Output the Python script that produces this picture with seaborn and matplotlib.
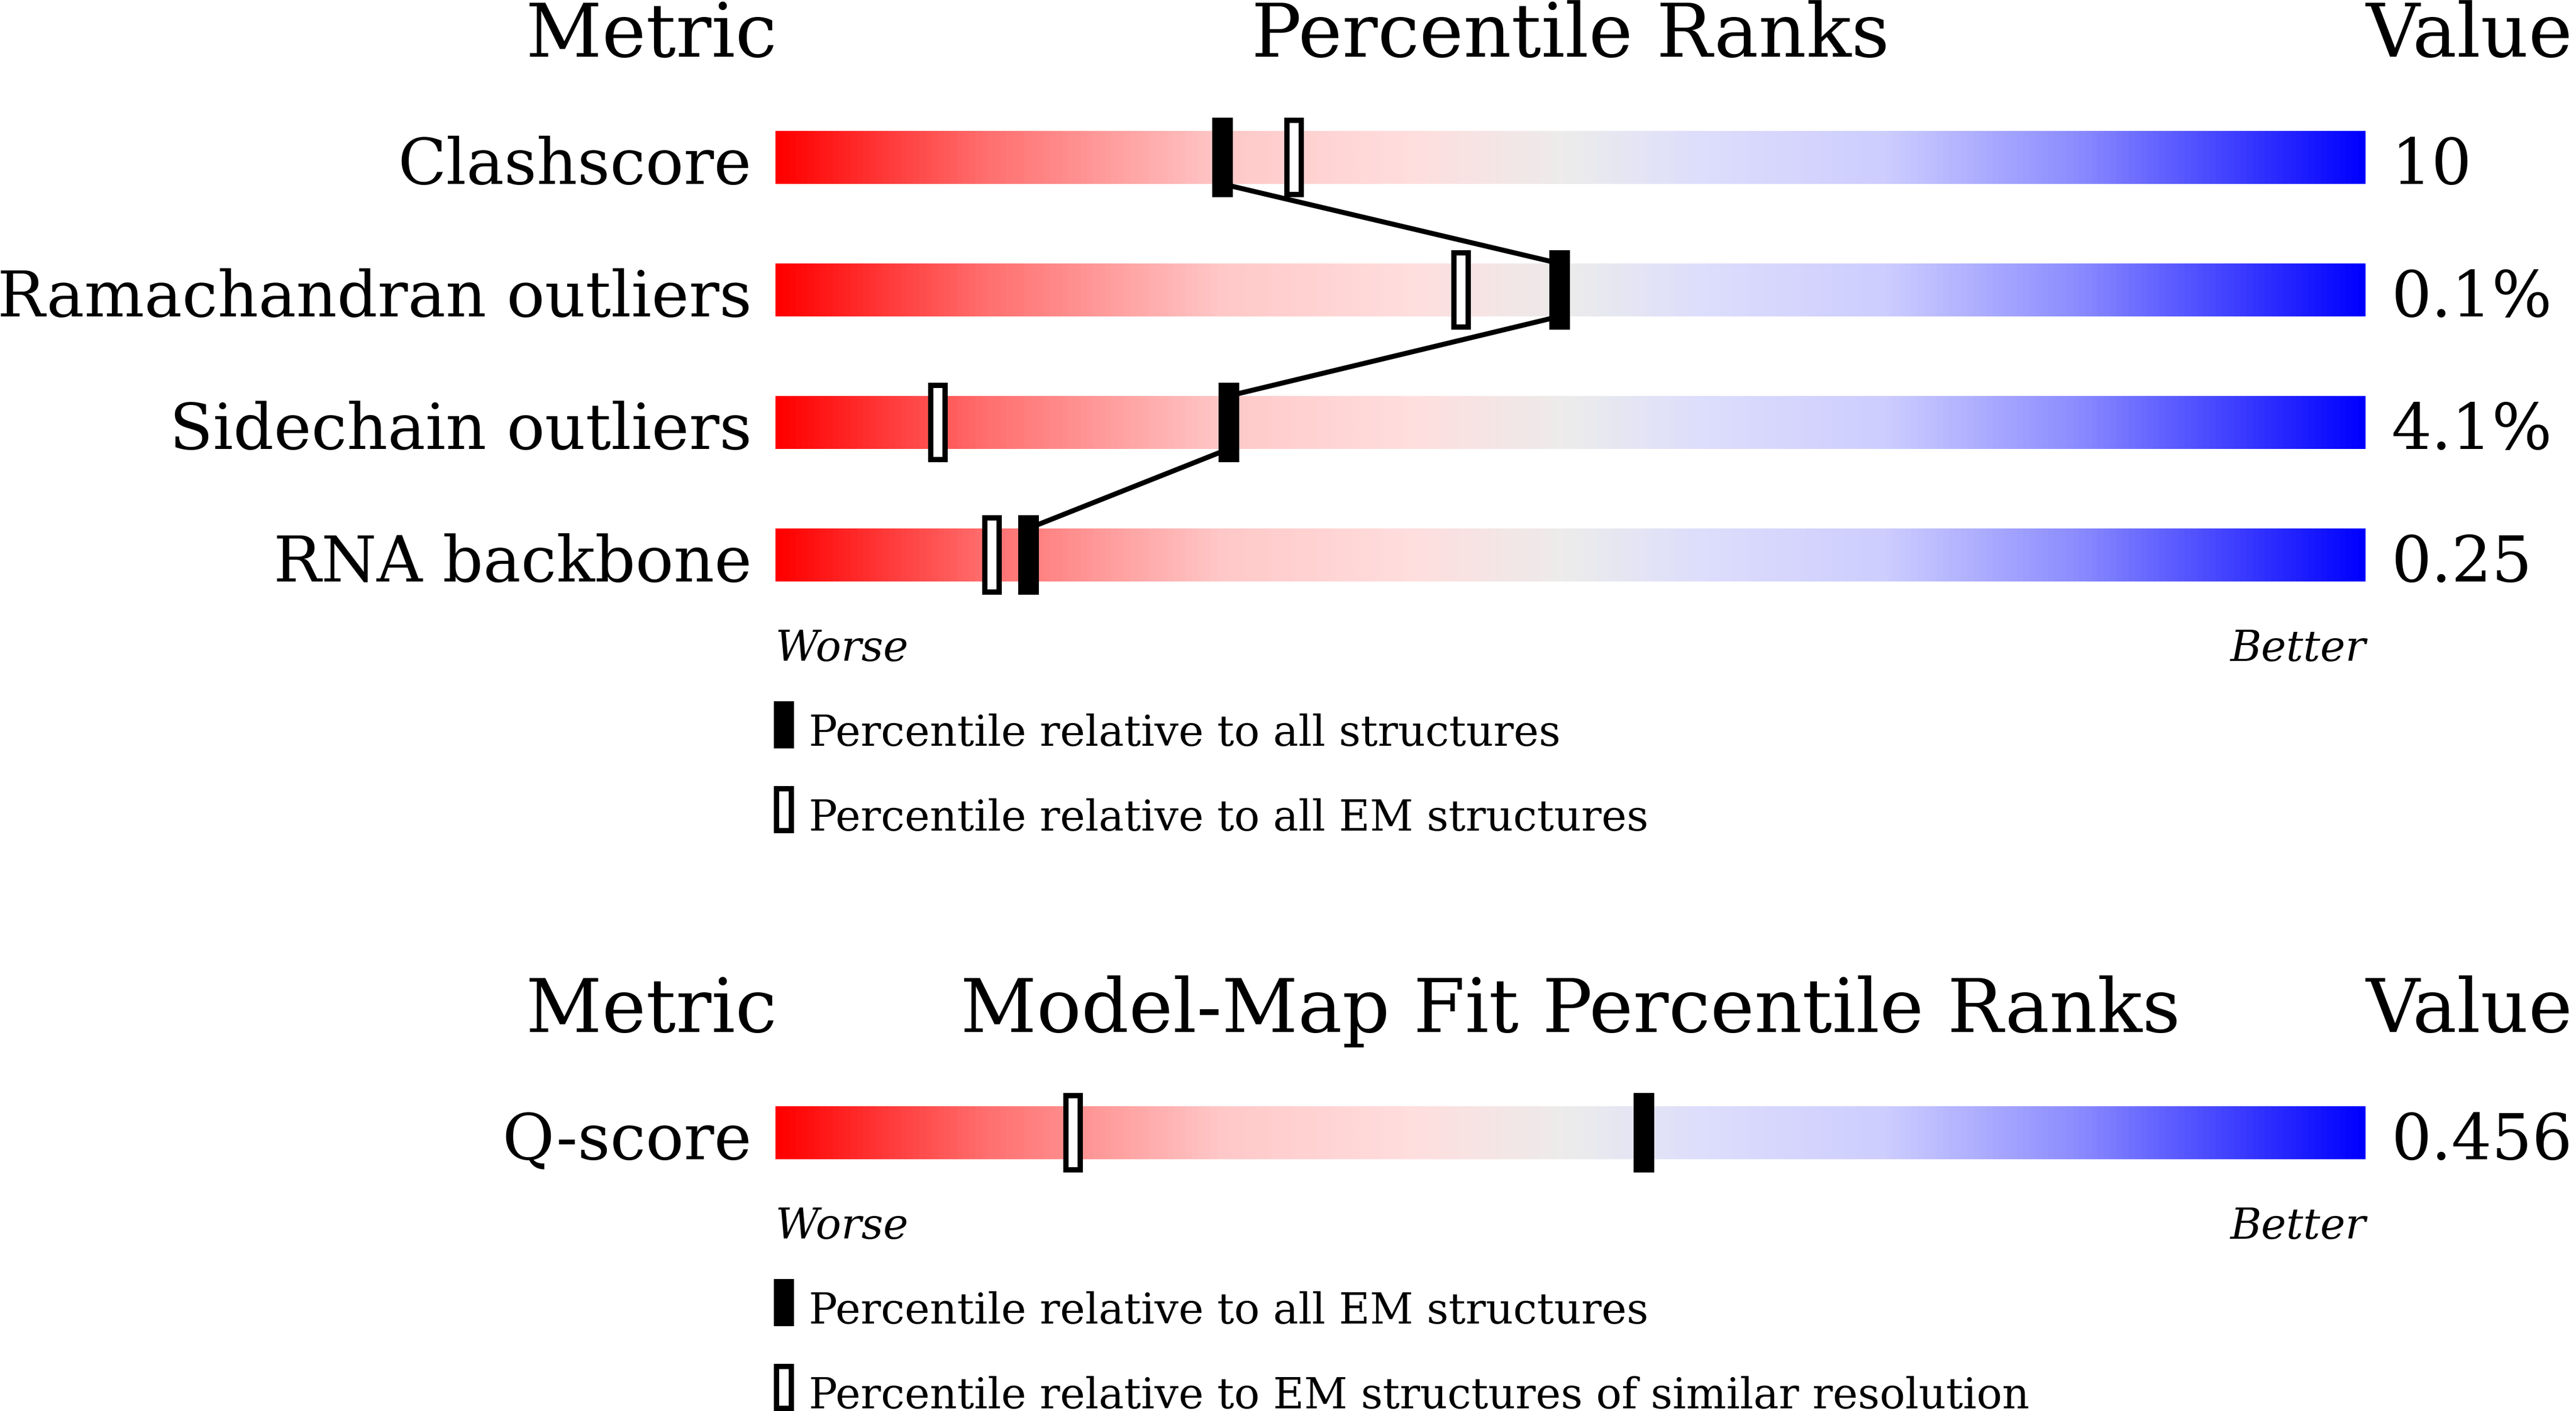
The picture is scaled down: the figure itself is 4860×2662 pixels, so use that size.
"""
Validation percentile sliders (wwPDB style report).
"""
import numpy as np
import pandas as pd
import matplotlib
matplotlib.use('Agg')
import matplotlib.pyplot as plt
from matplotlib.colors import LinearSegmentedColormap
from matplotlib.patches import Rectangle
import seaborn as sns

# Global validation metrics
metrics = ['Clashscore', 'Ramachandran outliers', 'Sidechain outliers', 'RNA backbone']
metric_values = ['10', '0.1%', '4.1%', '0.25']
pct_all = [28.1, 49.3, 28.5, 15.9]
pct_all_em = [32.6, 43.1, 10.2, 13.6]
top_legend = ['Percentile relative to all structures',
              'Percentile relative to all EM structures']

# Model-map fit
fit_metrics = ['Q-score']
fit_values = ['0.456']
fit_pct_em = [54.6]
fit_pct_res = [18.7]
bottom_legend = ['Percentile relative to all EM structures',
                 'Percentile relative to EM structures of similar resolution']

# slider colours, worse (red) -> better (blue)
grad_pos = [0.0, 0.13, 0.28, 0.40, 0.50, 0.58, 0.70, 0.82, 1.0]
grad_col = ['#ff0000', '#ff6e6e', '#ffc8c8', '#ffdede', '#ececec',
            '#dedefc', '#cdcdff', '#8c8cff', '#0000ff']
slider_cmap = LinearSegmentedColormap.from_list('slider', list(zip(grad_pos, grad_col)))

W, H, DPI = 4860, 2662, 100
BAR_X0, BAR_X1 = 1463, 4463      # slider ends in px
ROW_PX = 250                     # px per row
BAR_H = 0.4
MARK_H = 0.6

sns.set_theme(style='white')
plt.rcParams['font.family'] = ['DejaVu Serif', 'DejaVu Sans']
plt.rcParams['text.color'] = 'black'

TITLE_FS = 101
LABEL_FS = 86
SMALL_FS = 57.6


def panel_axes(fig, first_row_px, n_rows):
    top_px = first_row_px - ROW_PX / 2
    bot_px = top_px + n_rows * ROW_PX
    ax = fig.add_axes([BAR_X0 / W, 1 - bot_px / H, (BAR_X1 - BAR_X0) / W, n_rows * ROW_PX / H])
    ax.set_axis_off()
    return ax


def draw_panel(ax, names, vals, solid, hollow, title, legend_labels, connect):
    n = len(names)
    rows = np.arange(n)
    grad = np.linspace(0, 1, 600).reshape(1, -1)
    for r in rows:
        ax.imshow(grad, extent=[0, 100, r + BAR_H / 2, r - BAR_H / 2], aspect='auto',
                  cmap=slider_cmap, interpolation='bilinear', zorder=1)

    if connect and n > 1:
        xs, ys = [], []
        for r, p in zip(rows, solid):
            xs += [p, p]
            ys += [r - BAR_H / 2, r + BAR_H / 2]
        line_df = pd.DataFrame({'x': xs[1:-1], 'y': ys[1:-1]})
        sns.lineplot(data=line_df, x='x', y='y', sort=False, estimator=None,
                     color='black', linewidth=6.8, ax=ax, zorder=2, legend=False)

    ax.bar(hollow, MARK_H - 0.04, bottom=rows - (MARK_H - 0.04) / 2, width=0.9,
           color='white', edgecolor='black', linewidth=7.2, zorder=3)
    ax.bar(solid, MARK_H, bottom=rows - MARK_H / 2, width=1.3,
           color='black', linewidth=0, zorder=4)

    for r, name, v in zip(rows, names, vals):
        ax.text(-1.5, r + BAR_H / 2, name, ha='right', va='baseline', fontsize=LABEL_FS)
        ax.text(101.6, r + BAR_H / 2, v, ha='left', va='baseline', fontsize=LABEL_FS)

    ax.text(0.1, -0.76, 'Metric', ha='right', va='baseline', fontsize=TITLE_FS)
    ax.text(50, -0.76, title, ha='center', va='baseline', fontsize=TITLE_FS)
    ax.text(100, -0.76, 'Value', ha='left', va='baseline', fontsize=TITLE_FS)

    last = n - 1
    ax.text(0, last + 0.8, 'Worse', ha='left', va='baseline', fontsize=SMALL_FS, style='italic')
    ax.text(100, last + 0.8, 'Better', ha='right', va='baseline', fontsize=SMALL_FS, style='italic')

    # legend swatches
    ax.add_patch(Rectangle((-0.1, last + 1.104), 1.27, 0.356, facecolor='black',
                           edgecolor='none', clip_on=False))
    ax.add_patch(Rectangle((0.07, last + 1.764), 0.93, 0.316, facecolor='white',
                           edgecolor='black', linewidth=7.2, clip_on=False))
    ax.text(2.1, last + 1.44, legend_labels[0], ha='left', va='baseline', fontsize=SMALL_FS)
    ax.text(2.1, last + 2.08, legend_labels[1], ha='left', va='baseline', fontsize=SMALL_FS)

    ax.set_xlim(0, 100)
    ax.set_ylim(n - 0.5, -0.5)


fig = plt.figure(figsize=(W / DPI, H / DPI), dpi=DPI)
fig.patch.set_facecolor('white')

ax_top = panel_axes(fig, 297, len(metrics))
draw_panel(ax_top, metrics, metric_values, pct_all, pct_all_em,
           'Percentile Ranks', top_legend, connect=True)

ax_bot = panel_axes(fig, 2137, len(fit_metrics))
draw_panel(ax_bot, fit_metrics, fit_values, fit_pct_em, fit_pct_res,
           'Model-Map Fit Percentile Ranks', bottom_legend, connect=False)

fig.savefig('out.png', dpi=DPI, facecolor='white')
